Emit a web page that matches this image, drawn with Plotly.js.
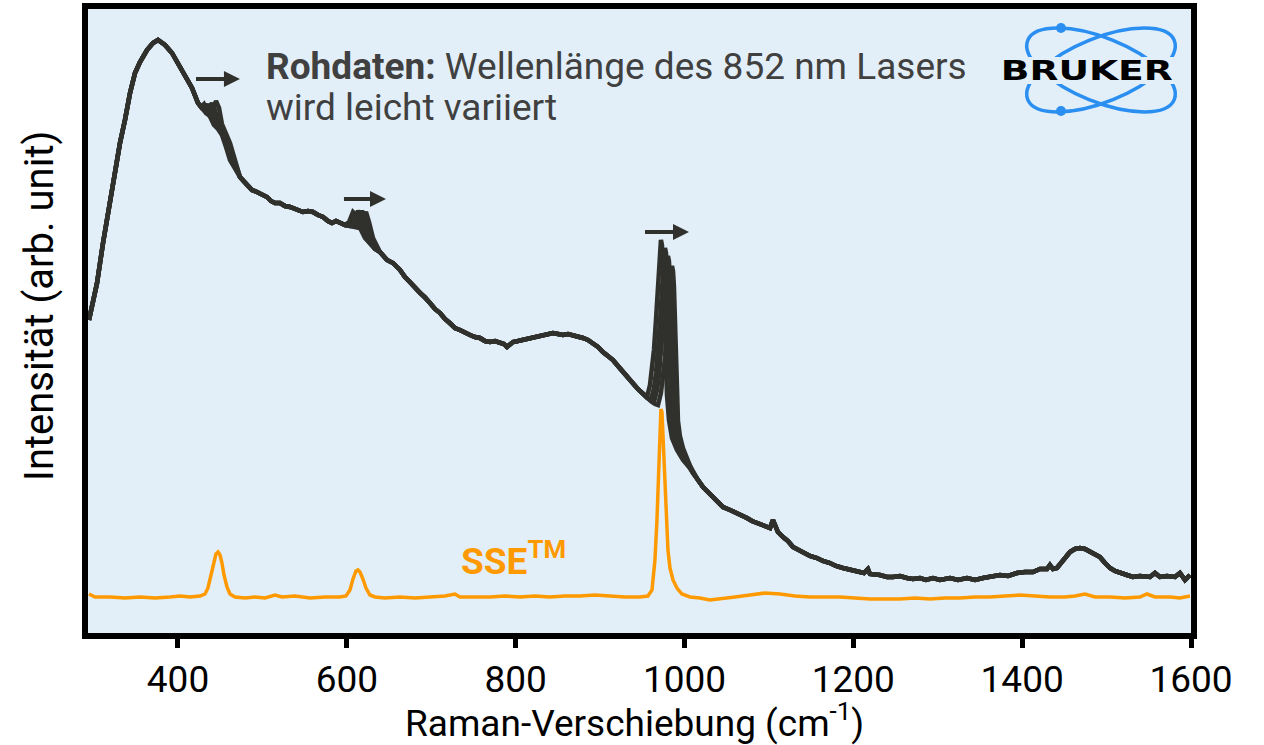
<!DOCTYPE html>
<html>
<head>
<meta charset="utf-8">
<script src="https://cdn.plot.ly/plotly-3.0.1.min.js"></script>
<style>html,body{margin:0;padding:0;background:#fff;}#chart{width:1264px;height:745px;}</style>
</head>
<body>
<div id="chart"></div>
<script>
// ---- Data (Raman shift in cm-1, intensity in arb. units) ----
// shared parts of the raw spectra
const rawSeg1 = [[294.6,313],[304.1,350],[311.2,390],[319.5,430],[325.4,463],[331.3,490],[337.2,513],[343.2,540],[349.1,560],[355.0,571],[363.3,583],[370.4,590],[376.3,593],[384.6,588],[392.9,580],[400.0,570],[408.3,558],[416.6,545],[423.7,530]];
const rawSeg2 = [[473.4,456],[481.7,448],[487.7,443],[493.6,441],[499.5,439],[505.4,436],[510.1,432],[514.9,430],[520.8,430],[526.7,427],[532.7,426],[539.8,424],[548.1,421],[554.0,422],[559.9,421],[565.9,418],[571.8,416],[577.7,412],[582.4,410],[587.2,412],[591.9,410],[597.8,408]];
const rawSeg3 = [[647.6,373],[654.7,370],[663.0,363],[668.9,356],[674.8,351],[680.7,345],[686.7,340],[692.6,336],[698.5,330],[704.4,324],[710.4,320],[716.3,314],[722.2,310],[728.1,305],[734.0,303],[740.0,300],[745.9,298],[751.8,296],[757.7,295],[763.6,292],[769.6,291],[775.5,292],[781.4,290],[786.1,289],[789.7,286],[793.3,288],[796.8,291],[802.7,292],[808.7,293],[814.6,295],[820.5,296],[826.4,297],[832.4,298],[838.3,299],[844.2,300],[850.1,299],[856.0,298],[862.0,299],[867.9,298],[873.8,297],[879.7,295],[885.6,293],[891.6,290],[897.5,286],[903.4,281],[909.3,277],[915.3,273],[921.2,267],[927.1,261],[931.8,256],[935.4,253],[940.1,248],[943.7,245],[947.3,242]];
const rawSeg4 = [[1010.0,160],[1016.0,153],[1021.9,146],[1027.8,141],[1033.7,136],[1039.7,131],[1045.6,126],[1053.9,123],[1062.2,120],[1068.1,117],[1074.0,115],[1079.9,112],[1085.9,110],[1093.0,108],[1101.3,105],[1104.8,113],[1107.2,107],[1110.7,101],[1116.7,96],[1122.6,92],[1128.5,86],[1134.4,83],[1140.3,80],[1148.6,77],[1156.9,75],[1164.0,72],[1172.3,70],[1179.4,67],[1187.7,65],[1196.0,63],[1204.3,61],[1212.6,60],[1217.3,64],[1219.7,59],[1231.6,58],[1239.8,56],[1246.9,56],[1255.2,57],[1263.5,55],[1270.6,54],[1278.9,55],[1286.0,53],[1294.3,55],[1302.6,53],[1314.5,55],[1324.0,53],[1334.6,55],[1344.1,53],[1353.6,55],[1363.0,56],[1373.7,58],[1383.2,57],[1393.8,60],[1403.3,61],[1412.8,61],[1421.1,64],[1429.4,64],[1432.9,68],[1436.5,64],[1441.2,65],[1448.3,73],[1456.6,81],[1462.5,84],[1468.5,85],[1474.4,84],[1480.3,81],[1486.2,78],[1492.1,76],[1498.1,70],[1504.0,65],[1509.9,62],[1515.8,60],[1524.1,58],[1531.2,56],[1539.5,57],[1551.4,56],[1557.3,60],[1563.2,56],[1571.5,57],[1581.0,56],[1586.9,60],[1592.9,53],[1598.8,58]];

// peak regions of the four raw spectra (laser wavelength slightly varied)
const peak450A = [[427.2,526],[430.8,529],[434.4,523],[437.9,515],[442.6,508],[447.4,504],[452.1,498],[456.9,486],[461.6,473]];
const peak450B = [[428.4,525],[432.0,523],[435.5,529],[439.1,521],[442.6,512],[447.4,505],[452.1,501],[456.9,492],[461.6,480]];
const peak450C = [[428.4,525],[433.2,521],[436.7,523],[440.3,530],[443.8,523],[447.4,511],[452.1,503],[456.9,496],[461.6,485]];
const peak450D = [[428.4,525],[433.2,520],[437.9,517],[441.5,523],[445.0,532],[448.6,525],[452.1,509],[456.9,500],[461.6,490]];

const peak610A = [[602.6,411],[607.3,421],[612.0,417],[616.8,403],[621.5,395],[627.4,389],[633.4,384],[639.3,381]];
const peak610B = [[603.7,408],[608.5,413],[613.2,422],[618.0,415],[622.7,399],[627.4,390],[633.4,384],[639.3,381]];
const peak610C = [[603.7,407],[609.7,407],[613.2,413],[618.0,422],[622.7,413],[626.3,397],[632.2,386],[639.3,381]];
const peak610D = [[603.7,407],[609.7,406],[614.4,405],[619.1,414],[622.7,421],[626.3,411],[631.0,395],[639.3,381]];

const peak975A = [[952.0,238],[955.6,236],[959.1,248],[961.5,263],[963.8,283],[966.2,313],[968.6,348],[969.8,371],[970.9,386],[972.1,393],[973.3,388],[974.5,373],[975.7,348],[976.9,313],[978.1,273],[979.2,238],[981.6,213],[985.2,195],[991.1,183],[998.2,173],[1005.3,166]];
const peak975B = [[952.0,238],[955.6,235],[960.3,233],[963.8,245],[966.2,260],[968.6,280],[970.9,310],[973.3,343],[974.5,363],[975.7,378],[976.9,385],[978.1,380],[979.2,365],[980.4,340],[981.6,305],[982.8,265],[984.0,230],[986.4,208],[989.9,192],[995.8,181],[1001.8,172],[1006.5,165]];
const peak975C = [[952.0,238],[956.7,234],[960.3,232],[963.8,231],[967.4,243],[969.8,258],[972.1,278],[974.5,308],[976.9,338],[978.1,355],[979.2,370],[980.4,377],[981.6,372],[982.8,357],[984.0,332],[985.2,297],[986.4,257],[987.5,222],[989.9,203],[993.5,189],[999.4,178],[1005.3,169]];
const peak975D = [[952.0,238],[956.7,234],[961.5,231],[965.0,229],[968.6,228],[972.1,240],[974.5,255],[976.9,275],[979.2,305],[981.6,337],[982.8,354],[984.0,362],[985.2,367],[986.4,362],[987.5,347],[988.7,322],[989.9,287],[991.1,247],[992.3,212],[994.6,197],[998.2,185],[1004.1,172],[1007.7,164]];

// SSE processed spectrum
const sseSpectrum = [[294.6,39],[301.7,36],[319.5,36],[337.2,35],[355.0,36],[372.8,35],[390.5,36],[402.4,37],[414.2,36],[426.1,37],[432.0,39],[435.5,45],[439.1,58],[442.6,73],[445.0,79],[447.4,81],[449.8,78],[452.1,70],[454.5,58],[458.0,46],[461.6,39],[467.5,36],[479.4,35],[491.2,36],[503.1,35],[514.9,38],[523.2,36],[538.6,37],[556.4,35],[574.1,36],[591.9,36],[599.0,37],[603.7,43],[607.3,54],[610.9,62],[613.2,63],[615.6,61],[619.1,54],[622.7,45],[627.4,38],[633.4,36],[645.2,35],[663.0,36],[680.7,35],[698.5,36],[716.3,37],[728.1,39],[734.0,36],[751.8,36],[769.6,36],[787.3,37],[805.1,36],[822.9,37],[840.6,36],[858.4,37],[876.2,37],[893.9,38],[911.7,37],[929.5,36],[947.3,36],[956.7,37],[961.5,43],[965.0,73],[967.4,113],[969.8,173],[970.9,208],[972.1,224],[973.3,221],[974.5,198],[975.7,163],[978.1,113],[980.4,83],[982.8,65],[986.4,53],[991.1,45],[997.0,39],[1006.5,36],[1018.3,35],[1030.2,33],[1042.0,34],[1059.8,36],[1077.6,38],[1095.3,40],[1113.1,39],[1130.9,37],[1148.6,36],[1166.4,36],[1184.2,36],[1201.9,35],[1219.7,34],[1237.5,34],[1255.2,34],[1273.0,35],[1290.8,34],[1308.5,35],[1326.3,35],[1344.1,36],[1361.8,36],[1379.6,37],[1397.4,38],[1415.2,37],[1432.9,36],[1450.7,36],[1462.5,37],[1474.4,39],[1486.2,36],[1504.0,36],[1521.8,35],[1539.5,36],[1547.8,39],[1557.3,36],[1575.1,36],[1586.9,35],[1598.8,37]];

const xTicks = [400, 600, 800, 1000, 1200, 1400, 1600];

// ---- Build traces ----
const rawSets = [
  [peak450A, peak610A, peak975A],
  [peak450B, peak610B, peak975B],
  [peak450C, peak610C, peak975C],
  [peak450D, peak610D, peak975D]
];
const BLACK = '#30312d';
const traces = rawSets.map(function (p) {
  const pts = [].concat(rawSeg1, p[0], rawSeg2, p[1], rawSeg3, p[2], rawSeg4);
  return {
    x: pts.map(d => d[0]), y: pts.map(d => d[1]),
    type: 'scatter', mode: 'lines',
    line: {color: BLACK, width: 4.5, shape: 'linear'},
    hoverinfo: 'skip', showlegend: false
  };
});
traces.push({
  x: sseSpectrum.map(d => d[0]), y: sseSpectrum.map(d => d[1]),
  type: 'scatter', mode: 'lines',
  line: {color: '#ff9900', width: 3.5},
  hoverinfo: 'skip', showlegend: false
});

// ---- Logo graphic (orbits) ----
const logoSvg = '<svg xmlns="http://www.w3.org/2000/svg" width="170" height="100" viewBox="0 0 170 100">' +
  '<g fill="none" stroke="#2a8ff0" stroke-width="3.5">' +
  '<ellipse cx="86" cy="50" rx="79" ry="32" transform="rotate(22 86 50)"/>' +
  '<ellipse cx="86" cy="50" rx="79" ry="32" transform="rotate(-22 86 50)"/>' +
  '</g><g fill="#2a8ff0"><circle cx="46" cy="8" r="5"/><circle cx="46" cy="91" r="5"/></g></svg>';
const logoSrc = 'data:image/svg+xml;charset=utf-8,' + encodeURIComponent(logoSvg);

const PLOTBG = '#e3eff8';
const W = 1264, H = 745, ML = 88, MR = 73, MT = 9, MB = 112;
const PW = W - ML - MR, PH = H - MT - MB;
const px = v => (v - ML) / PW;          // pixel x -> paper
const py = v => (H - MB - v) / PH;      // pixel y -> paper

// arrows (decoration) as shapes in data coordinates
const ARROW = '#30312d';
const cmPerPx = (1600 - 293.4) / PW;
function arrowShapes(x0, x1, y) {
  const head = 16 * cmPerPx;
  return [
    {type: 'line', xref: 'x', yref: 'y', x0: x0, x1: x1 - head + 1, y0: y, y1: y, line: {color: ARROW, width: 4}, layer: 'above'},
    {type: 'path', xref: 'x', yref: 'y', layer: 'above', fillcolor: ARROW, line: {width: 0},
      path: 'M' + (x1 - head) + ',' + (y + 8) + ' L' + x1 + ',' + y + ' L' + (x1 - head) + ',' + (y - 8) + ' Z'}
  ];
}

const layout = {
  width: W, height: H,
  margin: {l: ML, r: MR, t: MT, b: MB, pad: 0},
  paper_bgcolor: '#ffffff',
  plot_bgcolor: PLOTBG,
  font: {family: 'Roboto, sans-serif', color: '#000'},
  xaxis: {
    range: [293.4, 1600], tickvals: xTicks, ticktext: xTicks.map(String),
    ticks: 'outside', ticklen: 9, tickwidth: 5, tickcolor: '#000',
    showline: true, linewidth: 6, linecolor: '#000', mirror: true,
    showgrid: false, zeroline: false,
    tickfont: {family: 'Roboto, sans-serif', size: 37, color: '#000'}
  },
  yaxis: {
    range: [0, 624], showticklabels: false, ticks: '',
    showline: true, linewidth: 6, linecolor: '#000', mirror: true,
    showgrid: false, zeroline: false
  },
  images: [{
    source: logoSrc, xref: 'paper', yref: 'paper',
    x: px(1015), y: py(20), sizex: 170 / PW, sizey: 100 / PH,
    xanchor: 'left', yanchor: 'top', sizing: 'stretch', layer: 'above'
  }],
  shapes: [{
    type: 'rect', xref: 'paper', yref: 'paper', layer: 'above',
    x0: px(998), x1: px(1180), y0: py(84), y1: py(57),
    fillcolor: PLOTBG, line: {width: 0}
  }].concat(
    arrowShapes(421.3, 473.4, 554),
    arrowShapes(596.6, 646.4, 434),
    arrowShapes(953.2, 1005.3, 401)
  ),
  annotations: [
    {xref: 'paper', yref: 'paper', x: px(634), y: py(720), xanchor: 'center', yanchor: 'middle', showarrow: false,
      text: 'Raman-Verschiebung (cm<sup>-1</sup>)', font: {family: 'Roboto, sans-serif', size: 37, color: '#000'}},
    {xref: 'paper', yref: 'paper', x: px(39), y: py(306), xanchor: 'center', yanchor: 'middle', textangle: -90, showarrow: false,
      text: 'Intensität (arb. unit)', font: {family: 'Roboto, sans-serif', size: 40, color: '#000'}},
    {xref: 'paper', yref: 'paper', x: px(264), y: py(66), xanchor: 'left', yanchor: 'middle', showarrow: false,
      text: '<b>Rohdaten:</b> Wellenlänge des 852 nm Lasers', font: {family: 'Roboto, sans-serif', size: 37, color: '#404040'}},
    {xref: 'paper', yref: 'paper', x: px(264), y: py(107), xanchor: 'left', yanchor: 'middle', showarrow: false,
      text: 'wird leicht variiert', font: {family: 'Roboto, sans-serif', size: 37, color: '#404040'}},
    {xref: 'paper', yref: 'paper', x: px(459), y: py(558), xanchor: 'left', yanchor: 'middle', showarrow: false,
      text: '<b>SSE<sup>TM</sup></b>', font: {family: 'Roboto, sans-serif', size: 37, color: '#ff9900'}},
    {xref: 'paper', yref: 'paper', x: px(1087), y: py(71), xanchor: 'center', yanchor: 'middle', showarrow: false,
      text: '<b>BRUKER</b>', font: {family: 'DejaVu Sans, sans-serif', size: 27, color: '#000'}}
  ]
};

Plotly.newPlot('chart', traces, layout, {staticPlot: true, displayModeBar: false}).then(function () {
  document.querySelectorAll('text.annotation-text').forEach(function (t) {
    if (t.textContent === 'BRUKER') {
      t.setAttribute('textLength', '172');
      t.setAttribute('lengthAdjust', 'spacingAndGlyphs');
    }
  });
});
</script>
</body>
</html>
